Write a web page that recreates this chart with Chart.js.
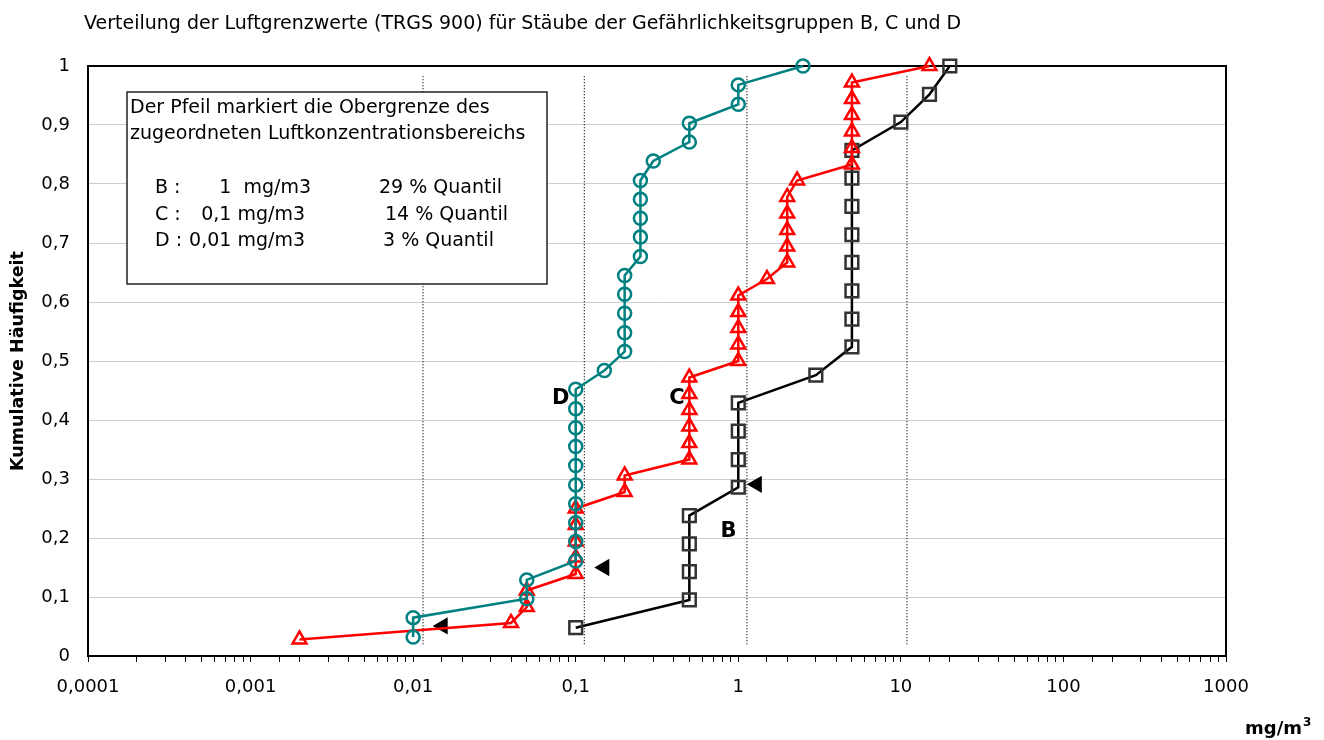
<!DOCTYPE html>
<html lang="de">
<head>
<meta charset="utf-8">
<title>Verteilung der Luftgrenzwerte (TRGS 900)</title>
<script src="https://cdn.jsdelivr.net/npm/chart.js@4.4.1/dist/chart.umd.min.js"></script>
<style>
  html, body { margin: 0; padding: 0; background: #fff; }
  #chart { display: block; }
</style>
</head>
<body>
<canvas id="chart" width="1324" height="740"></canvas>
<script>
// Texts
const titleText = "Verteilung der Luftgrenzwerte (TRGS 900) für Stäube der Gefährlichkeitsgruppen B, C und D";
const yAxisTitle = "Kumulative Häufigkeit";
const xUnit = "mg/m";
const xUnitSup = "3";
const xTickLabels = ["0,0001", "0,001", "0,01", "0,1", "1", "10", "100", "1000"];
const yTickLabels = ["0", "0,1", "0,2", "0,3", "0,4", "0,5", "0,6", "0,7", "0,8", "0,9", "1"];

// Gruppe D (circles)
const dX = [0.01, 0.01, 0.05, 0.05, 0.1, 0.1, 0.1, 0.1, 0.1, 0.1, 0.1, 0.1, 0.1, 0.1,
  0.15, 0.2, 0.2, 0.2, 0.2, 0.2, 0.25, 0.25, 0.25, 0.25, 0.25, 0.3, 0.5, 0.5, 1, 1, 2.5];
const dY = [0.032, 0.065, 0.097, 0.129, 0.161, 0.194, 0.226, 0.258, 0.290, 0.323, 0.355,
  0.387, 0.419, 0.452, 0.484, 0.516, 0.548, 0.581, 0.613, 0.645, 0.677, 0.710, 0.742,
  0.774, 0.806, 0.839, 0.871, 0.903, 0.935, 0.968, 1.0];

// Gruppe C (triangles)
const cX = [0.002, 0.04, 0.05, 0.05, 0.1, 0.1, 0.1, 0.1, 0.1, 0.2, 0.2, 0.5, 0.5, 0.5,
  0.5, 0.5, 0.5, 1, 1, 1, 1, 1, 1.5, 2, 2, 2, 2, 2, 2.3, 5, 5, 5, 5, 5, 5, 15];
const cY = [0.028, 0.056, 0.083, 0.111, 0.139, 0.167, 0.194, 0.222, 0.250, 0.278, 0.306,
  0.333, 0.361, 0.389, 0.417, 0.444, 0.472, 0.500, 0.528, 0.556, 0.583, 0.611, 0.639,
  0.667, 0.694, 0.722, 0.750, 0.778, 0.806, 0.833, 0.861, 0.889, 0.917, 0.944, 0.972, 1.0];

// Gruppe B (squares)
const bX = [0.1, 0.5, 0.5, 0.5, 0.5, 1, 1, 1, 1, 3, 5, 5, 5, 5, 5, 5, 5, 5, 10, 15, 20];
const bY = [0.048, 0.095, 0.143, 0.190, 0.238, 0.286, 0.333, 0.381, 0.429, 0.476, 0.524,
  0.571, 0.619, 0.667, 0.714, 0.762, 0.810, 0.857, 0.905, 0.952, 1.0];

// Arrows (upper limit of the concentration range)
const arrowX = [0.0152, 0.150, 1.30];
const arrowY = [0.051, 0.150, 0.291];

// Dotted reference lines
const refLineX = [0.0115, 0.113, 1.13, 10.9];
const refLineY = [0.02, 0.985];

// Group letters next to the curves
const groupLetters = ["D", "C", "B"];
const letterX = [0.081, 0.42, 0.87];
const letterY = [0.437, 0.436, 0.211];

// Note box
const noteLines = ["Der Pfeil markiert die Obergrenze des", "zugeordneten Luftkonzentrationsbereichs"];
const noteRows = [
  ["B :", "1  mg/m3", "29 % Quantil"],
  ["C :", "0,1 mg/m3", "14 % Quantil"],
  ["D :", "0,01 mg/m3", "3 % Quantil"],
];

const FONT = "'DejaVu Sans', sans-serif";

const toPoints = (xs, ys) => xs.map((x, i) => ({ x: x, y: ys[i] }));

// Draws background, frame, note box, letters, title and unit
const extrasPlugin = {
  id: "extras",
  beforeDraw(chart) {
    const ctx = chart.ctx;
    ctx.save();
    ctx.fillStyle = "#fff";
    ctx.fillRect(0, 0, chart.width, chart.height);
    ctx.restore();
  },
  beforeDatasetsDraw(chart) {
    const { ctx, chartArea } = chart;
    ctx.save();
    ctx.strokeStyle = "#000";
    ctx.lineWidth = 2;
    ctx.strokeRect(chartArea.left, chartArea.top, chartArea.right - chartArea.left, chartArea.bottom - chartArea.top);
    ctx.restore();
  },
  afterDatasetsDraw(chart) {
    const ctx = chart.ctx;
    const xs = chart.scales.x;
    const ys = chart.scales.y;
    ctx.save();

    // note box
    ctx.fillStyle = "#fff";
    ctx.fillRect(127, 92, 420, 192);
    ctx.strokeStyle = "#000";
    ctx.lineWidth = 1.3;
    ctx.strokeRect(127, 92, 420, 192);
    ctx.fillStyle = "#000";
    ctx.font = "19px " + FONT;
    ctx.textBaseline = "alphabetic";
    ctx.textAlign = "left";
    ctx.fillText(noteLines[0], 130, 113);
    ctx.fillText(noteLines[1], 130, 139);
    const valueRight = [311, 305, 305];
    const quantX = [379, 385, 383];
    noteRows.forEach((row, i) => {
      const y = 193 + i * 26.5;
      ctx.textAlign = "left";
      ctx.fillText(row[0], 155, y);
      ctx.fillText(row[2], quantX[i], y);
      ctx.textAlign = "right";
      ctx.fillText(row[1], valueRight[i], y);
    });

    // letters D, C, B
    ctx.font = "bold 21px " + FONT;
    ctx.textAlign = "center";
    ctx.textBaseline = "middle";
    groupLetters.forEach((t, i) => {
      ctx.fillText(t, xs.getPixelForValue(letterX[i]), ys.getPixelForValue(letterY[i]));
    });

    // title
    ctx.font = "19px " + FONT;
    ctx.textAlign = "left";
    ctx.textBaseline = "alphabetic";
    ctx.fillText(titleText, 84, 29);

    // x unit
    ctx.font = "bold 18px " + FONT;
    ctx.fillText(xUnit, 1245, 734);
    const w = ctx.measureText(xUnit).width;
    ctx.font = "bold 12px " + FONT;
    ctx.fillText(xUnitSup, 1245 + w + 1, 726);
    ctx.restore();
  },
};

const refDatasets = refLineX.map((x) => ({
  data: refLineY.map((y) => ({ x: x, y: y })),
  showLine: true,
  borderColor: "#000",
  borderWidth: 1.2,
  borderDash: [1, 2],
  pointRadius: 0,
}));

new Chart(document.getElementById("chart"), {
  type: "scatter",
  data: {
    datasets: [
      {
        label: "D",
        data: toPoints(dX, dY),
        showLine: true,
        borderColor: "#008080",
        borderWidth: 2.5,
        pointStyle: "circle",
        pointRadius: 6.5,
        pointBorderWidth: 2.5,
        pointBorderColor: "#008080",
        pointBackgroundColor: "rgba(0,0,0,0)",
        clip: false,
      },
      {
        label: "C",
        data: toPoints(cX, cY),
        showLine: true,
        borderColor: "#ff0000",
        borderWidth: 2.5,
        pointStyle: "triangle",
        pointRadius: 8,
        pointBorderWidth: 2.5,
        pointBorderColor: "#ff0000",
        pointBackgroundColor: "rgba(0,0,0,0)",
        clip: false,
      },
      {
        label: "B",
        data: toPoints(bX, bY),
        showLine: true,
        borderColor: "#000",
        borderWidth: 2.5,
        pointStyle: "rect",
        pointRadius: 9,
        pointBorderWidth: 2.5,
        pointBorderColor: "#333",
        pointBackgroundColor: "rgba(0,0,0,0)",
        clip: false,
      },
      {
        label: "Pfeil",
        data: toPoints(arrowX, arrowY),
        showLine: false,
        pointStyle: "triangle",
        rotation: -90,
        pointRadius: 10,
        pointBorderWidth: 0,
        pointBackgroundColor: "#000",
        clip: false,
      },
      ...refDatasets,
    ],
  },
  options: {
    responsive: false,
    animation: false,
    events: [],
    layout: { padding: { top: 66, right: 98, left: 0, bottom: 0 } },
    plugins: {
      legend: { display: false },
      tooltip: { enabled: false },
    },
    scales: {
      x: {
        type: "logarithmic",
        min: 0.0001,
        max: 1000,
        afterFit: (scale) => { scale.height = 84; },
        border: { display: true, color: "#000", width: 2 },
        grid: { drawOnChartArea: false, drawTicks: true, tickLength: 6, color: "#000", lineWidth: 1 },
        ticks: {
          autoSkip: false,
          maxRotation: 0,
          padding: 15,
          color: "#000",
          font: { family: FONT, size: 18 },
          callback: (value) => {
            const lg = Math.log10(value);
            if (Math.abs(lg - Math.round(lg)) < 1e-6) return xTickLabels[Math.round(lg) + 4];
            return "";
          },
        },
      },
      y: {
        min: 0,
        max: 1,
        afterFit: (scale) => { scale.width = 88; },
        border: { display: true, color: "#000", width: 2 },
        grid: { color: "#cccccc", lineWidth: 1, drawTicks: false },
        ticks: {
          stepSize: 0.1,
          padding: 18,
          color: "#000",
          font: { family: FONT, size: 18 },
          callback: (value, index) => yTickLabels[index],
        },
        title: {
          display: true,
          text: yAxisTitle,
          color: "#000",
          font: { family: FONT, size: 17.5, weight: "bold" },
          padding: { top: 8, bottom: 0 },
        },
      },
    },
  },
  plugins: [extrasPlugin],
});
</script>
</body>
</html>
